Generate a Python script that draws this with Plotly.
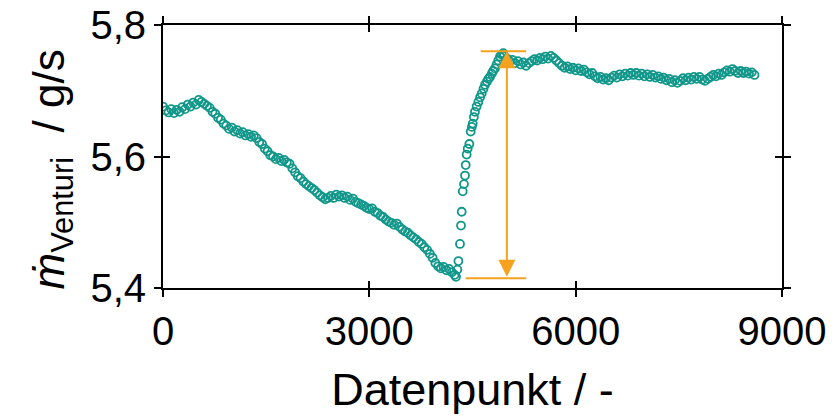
import plotly.graph_objects as go

# ---- data ----
# Segment 1: slow decline, x = 0 ... step 40
seg1_start, seg1_step = 0, 40
seg1_y = [
    5.676, 5.670, 5.667, 5.672, 5.666, 5.671, 5.668, 5.675, 5.672, 5.679,
    5.676, 5.682, 5.679, 5.686, 5.683, 5.680, 5.677, 5.674, 5.668, 5.665,
    5.659, 5.656, 5.650, 5.647, 5.642, 5.644, 5.638, 5.640, 5.635, 5.637,
    5.632, 5.634, 5.630, 5.632, 5.628, 5.622, 5.619, 5.612, 5.608, 5.602,
    5.600, 5.596, 5.598, 5.593, 5.595, 5.591, 5.589, 5.582, 5.576, 5.570,
    5.567, 5.562, 5.558, 5.555, 5.552, 5.549, 5.545, 5.541, 5.538, 5.535,
    5.537, 5.540, 5.537, 5.542, 5.539, 5.541, 5.537, 5.539, 5.534, 5.536,
    5.531, 5.529, 5.527, 5.525, 5.522, 5.520, 5.521, 5.516, 5.514, 5.510,
    5.508, 5.504, 5.501, 5.499, 5.496, 5.498, 5.493, 5.489, 5.486, 5.484,
    5.480, 5.477, 5.474, 5.470, 5.467, 5.462, 5.458, 5.452, 5.446, 5.438,
    5.433, 5.430, 5.432, 5.427, 5.429, 5.424, 5.420,
]
# Segment 2: fast rise
seg2_x = [4260, 4280, 4295, 4318, 4333, 4343, 4358, 4376, 4391, 4401,
          4415, 4430, 4454, 4474, 4490, 4503, 4520, 4536, 4560, 4585,
          4610, 4634, 4660, 4682, 4710, 4730, 4754, 4780, 4800, 4827,
          4850, 4875, 4900, 4925, 4948]
seg2_y = [5.417, 5.428, 5.441, 5.467, 5.495, 5.516, 5.547, 5.558, 5.571, 5.587,
          5.603, 5.612, 5.619, 5.638, 5.645, 5.650, 5.660, 5.668, 5.676, 5.683,
          5.690, 5.696, 5.703, 5.709, 5.714, 5.718, 5.721, 5.726, 5.730, 5.734,
          5.740, 5.746, 5.752, 5.755, 5.757]
# Segment 3: plateau, x = 4960 ... step 40
seg3_start, seg3_step = 4960, 40
seg3_y = [
    5.753, 5.749, 5.745, 5.747, 5.742, 5.745, 5.740, 5.743, 5.738, 5.742,
    5.745, 5.748, 5.746, 5.750, 5.748, 5.752, 5.749, 5.753, 5.750, 5.746,
    5.742, 5.738, 5.735, 5.737, 5.733, 5.735, 5.731, 5.734, 5.730, 5.732,
    5.728, 5.725, 5.727, 5.722, 5.719, 5.721, 5.717, 5.719, 5.716, 5.720,
    5.723, 5.720, 5.725, 5.722, 5.726, 5.723, 5.727, 5.724, 5.727, 5.723,
    5.726, 5.722, 5.725, 5.721, 5.724, 5.720, 5.722, 5.718, 5.720, 5.716,
    5.718, 5.713, 5.716, 5.712, 5.715, 5.719, 5.716, 5.720, 5.717, 5.721,
    5.718, 5.721, 5.717, 5.715, 5.718, 5.721, 5.724, 5.722, 5.726, 5.724,
    5.728, 5.731, 5.729, 5.733, 5.730, 5.727, 5.730, 5.727, 5.729, 5.726,
    5.728, 5.724,
]

seg1_x = [seg1_start + i * seg1_step for i in range(len(seg1_y))]
seg3_x = [seg3_start + i * seg3_step for i in range(len(seg3_y))]
x_vals = seg1_x + seg2_x + seg3_x
y_vals = seg1_y + seg2_y + seg3_y

# range marker (arrow)
arrow_x = 5000
arrow_low = 5.415
arrow_high = 5.760
low_line_x = [4400, 5280]
high_line_x = [4620, 5280]

x_ticks = [0, 3000, 6000, 9000]
y_ticks = [5.4, 5.6, 5.8]
x_range = [0, 9000]
y_range = [5.4, 5.8]

teal = "#11978A"
orange = "#F7A21E"
font_family = "Liberation Sans, Arial, sans-serif"

fig = go.Figure()
fig.add_trace(go.Scatter(
    x=x_vals, y=y_vals, mode="markers",
    marker=dict(symbol="circle-open", size=8, color=teal, line=dict(width=1.8, color=teal)),
    showlegend=False, xaxis="x", yaxis="y",
))

# horizontal limit lines
fig.add_shape(type="line", xref="x", yref="y", x0=high_line_x[0], x1=high_line_x[1],
              y0=arrow_high, y1=arrow_high, line=dict(color=orange, width=2))
fig.add_shape(type="line", xref="x", yref="y", x0=low_line_x[0], x1=low_line_x[1],
              y0=arrow_low, y1=arrow_low, line=dict(color=orange, width=2))
# double arrow
fig.add_annotation(x=arrow_x, y=arrow_high, ax=arrow_x, ay=arrow_low,
                   xref="x", yref="y", axref="x", ayref="y",
                   showarrow=True, arrowhead=2, startarrowhead=2, arrowside="end+start",
                   arrowsize=1.7, startarrowsize=1.7, arrowwidth=2, arrowcolor=orange, text="")

# y-axis title
fig.add_annotation(text="<i>ṁ</i><sub>Venturi</sub>  / g/s", textangle=-90,
                   xref="paper", yref="paper", x=0, y=0.5, xanchor="center", yanchor="middle",
                   xshift=-112, yshift=-13, showarrow=False,
                   font=dict(family=font_family, size=44, color="black"))

axis_common = dict(showgrid=False, zeroline=False, linecolor="black", tickcolor="black",
                   tickwidth=2, ticklen=7, automargin=False)

fig.update_layout(
    width=838, height=417,
    margin=dict(l=163, r=56, t=25, b=129),
    paper_bgcolor="white", plot_bgcolor="white",
    separators=",.",
    font=dict(family=font_family, size=40, color="black"),
    xaxis=dict(range=x_range, tickvals=x_ticks, ticks="outside", mirror="ticks",
               showline=True, linewidth=2,
               title=dict(text="Datenpunkt / -", font=dict(size=45), standoff=21),
               **axis_common),
    yaxis=dict(range=y_range, tickvals=y_ticks, ticks="outside", mirror="ticks",
               showline=True, linewidth=2, tickformat=".1f",
               **axis_common),
    xaxis2=dict(range=x_range, tickvals=x_ticks, ticks="inside", mirror="ticks",
                overlaying="x", anchor="y", showticklabels=False, showline=False,
                **axis_common),
    yaxis2=dict(range=y_range, tickvals=y_ticks, ticks="inside", mirror="ticks",
                overlaying="y", anchor="x", showticklabels=False, showline=False,
                **axis_common),
)
# invisible trace to activate the overlay axes
fig.add_trace(go.Scatter(x=[x_range[0]], y=[y_range[0]], mode="markers",
                         marker=dict(opacity=0), showlegend=False, hoverinfo="skip",
                         xaxis="x2", yaxis="y2"))

fig.write_html("out.html")
